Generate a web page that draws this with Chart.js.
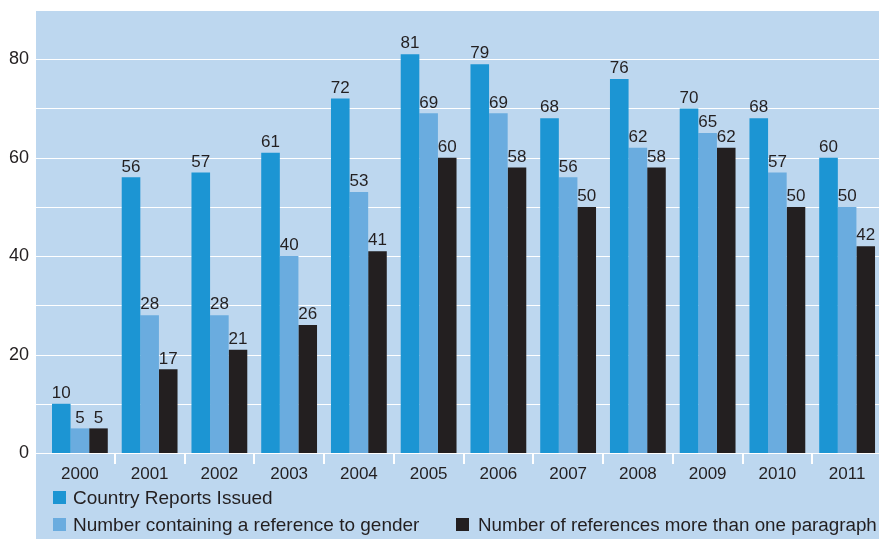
<!DOCTYPE html>
<html>
<head>
<meta charset="utf-8">
<script src="https://cdn.jsdelivr.net/npm/chart.js@4"></script>
<style>
  html, body { margin:0; padding:0; background:#fff; overflow:hidden; }
  #wrap { position:relative; width:879px; height:539px; overflow:hidden; }
  canvas { position:absolute; left:0; top:0; }
  .leg { position:absolute; font-family:"Liberation Sans", Arial, sans-serif; font-size:19px; color:#231f20; white-space:nowrap; line-height:19px; }
  .sw { position:absolute; width:13px; height:13px; }
</style>
</head>
<body>
<div id="wrap">
  <canvas id="chart" width="892" height="539"></canvas>
  <div class="sw" style="left:53px;top:491px;background:#1c95d3"></div>
  <div class="leg" style="left:73px;top:488px">Country Reports Issued</div>
  <div class="sw" style="left:53px;top:518px;background:#6aacdf"></div>
  <div class="leg" style="left:73px;top:515px">Number containing a reference to gender</div>
  <div class="sw" style="left:456px;top:518px;background:#231f20"></div>
  <div class="leg" style="left:478px;top:515px;font-size:18.8px">Number of references more than one paragraph</div>
</div>
<script>
const years = ["2000","2001","2002","2003","2004","2005","2006","2007","2008","2009","2010","2011"];
const reportsIssued = [10,56,57,61,72,81,79,68,76,70,68,60];
const genderRefs = [5,28,28,40,53,69,69,56,62,65,57,50];
const multiParagraph = [5,17,21,26,41,60,58,50,58,62,50,42];
const yTicks = [0,20,40,60,80];

const panelLeft = 36, panelTop = 11;

const panelPlugin = {
  id: "panel",
  beforeDraw(chart) {
    const ctx = chart.ctx;
    const y = chart.scales.y;
    ctx.save();
    ctx.fillStyle = "#bdd7ef";
    ctx.fillRect(panelLeft, panelTop, chart.width - panelLeft, chart.height - panelTop);
    ctx.strokeStyle = "#ffffff";
    ctx.lineWidth = 1.2;
    for (let v = 0; v <= 80; v += 10) {
      const py = Math.round(y.getPixelForValue(v)) + 0.5;
      ctx.beginPath();
      ctx.moveTo(panelLeft, py);
      ctx.lineTo(chart.width, py);
      ctx.stroke();
    }
    ctx.restore();
  }
};

const labelPlugin = {
  id: "valueLabels",
  afterDatasetsDraw(chart) {
    const ctx = chart.ctx;
    ctx.save();
    ctx.font = "17px 'Liberation Sans', Arial, sans-serif";
    ctx.fillStyle = "#231f20";
    ctx.textAlign = "center";
    ctx.textBaseline = "bottom";
    chart.data.datasets.forEach((ds, i) => {
      chart.getDatasetMeta(i).data.forEach((bar, j) => {
        ctx.fillText(ds.data[j], bar.x, bar.y - 2);
      });
    });
    ctx.restore();
  }
};

new Chart(document.getElementById("chart"), {
  type: "bar",
  data: {
    labels: years,
    datasets: [
      { label: "Country Reports Issued", data: reportsIssued, backgroundColor: "#1c95d3" },
      { label: "Number containing a reference to gender", data: genderRefs, backgroundColor: "#6aacdf" },
      { label: "Number of references more than one paragraph", data: multiParagraph, backgroundColor: "#231f20" }
    ]
  },
  options: {
    responsive: false,
    animation: false,
    datasets: { bar: { categoryPercentage: 0.8, barPercentage: 1.0 } },
    layout: { padding: { top: 10, right: 10, left: 0, bottom: 0 } },
    plugins: { legend: { display: false }, tooltip: { enabled: false } },
    scales: {
      x: {
        offset: true,
        border: { display: false },
        grid: {
          offset: true, drawOnChartArea: false, drawTicks: true, tickLength: 11, lineWidth: 2,
          color: c => c.index === 0 ? "rgba(0,0,0,0)" : "#ffffff"
        },
        ticks: { color: "#231f20", padding: 0, font: { family: "'Liberation Sans', Arial, sans-serif", size: 17 } },
        afterFit: s => { s.height = 86; s.paddingLeft = 0; s.paddingRight = 0; }
      },
      y: {
        min: 0, max: 90,
        border: { display: false },
        grid: { display: false },
        ticks: {
          stepSize: 20,
          color: "#231f20",
          padding: 8,
          font: { family: "'Liberation Sans', Arial, sans-serif", size: 18 },
          callback: v => yTicks.includes(v) ? v : ""
        },
        afterFit: s => { s.width = 45; s.paddingTop = 0; s.paddingBottom = 0; }
      }
    }
  },
  plugins: [panelPlugin, labelPlugin]
});
</script>
</body>
</html>
